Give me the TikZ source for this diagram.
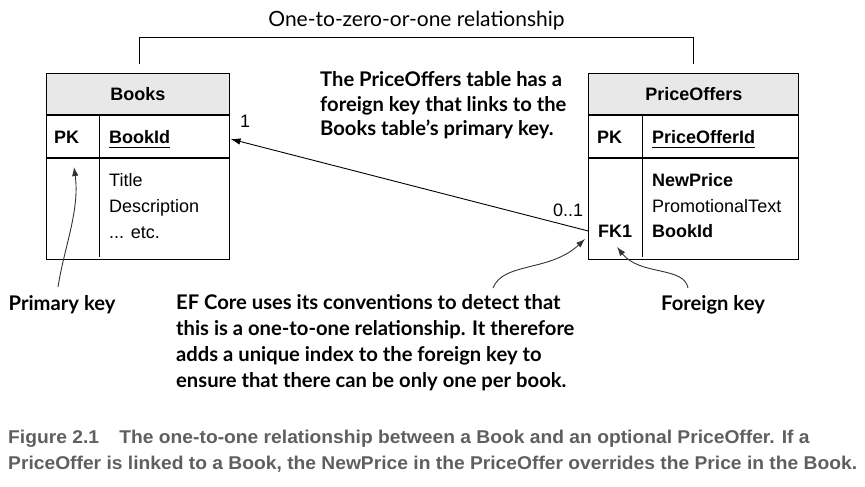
\documentclass[tikz,border=0pt]{standalone}
\usepackage{fontspec}
\setmainfont{Liberation Sans}
\newfontfamily\gill{Lato}
\newfontfamily\capfont[FakeStretch=1.04]{Liberation Sans}
\usetikzlibrary{arrows.meta,calc}
\definecolor{hdrgray}{HTML}{E8E8E8}
\definecolor{capgray}{HTML}{5F5F5F}
\definecolor{annot}{HTML}{333333}
\tikzset{
  tbox/.style={draw, line width=1pt, inner sep=0pt, anchor=north west},
  thead/.style={tbox, fill=hdrgray, font=\bfseries\fontsize{18}{20}\selectfont},
  tfield/.style={anchor=base west, inner sep=0pt, font=\fontsize{18}{20}\selectfont},
  tkey/.style={tfield, font=\bfseries\fontsize{18}{20}\selectfont},
  note/.style={anchor=base west, inner sep=0pt, align=left, font=\gill\bfseries\fontsize{20.2}{25.7}\selectfont},
  pointer/.style={draw=annot, line width=0.9pt, -{Latex[length=9pt,width=6.5pt]}},
  link/.style={draw, line width=0.9pt, -{Latex[length=10pt,width=6.5pt]}}
}
\begin{document}
\begin{tikzpicture}[x=1pt,y=-1pt]
\useasboundingbox (0,0) rectangle (865,487);

% Books table
\node[thead, minimum width=183.6pt, minimum height=41pt] (bhead) at (45.7,73.3) {Books};
\node[tbox, minimum width=183.6pt, minimum height=41.7pt] (bpk) at (bhead.south west) {};
\node[tbox, minimum width=183.6pt, minimum height=101.3pt] (bbody) at (bpk.south west) {};
\draw[line width=1pt] (99.3,114.3) -- (99.3,257.3);
\node[tkey] (bpklabel) at (54,143) {PK};
\node[tkey] (bid) at (109,143) {BookId};
\draw[line width=0.9pt] (bid.base west) ++(0,4) -- ($(bid.base east)+(0,4)$);
\node[tfield] (btitle) at (109,186) {Title};
\node[tfield] (bdesc) at (109,212) {Description};
\node[tfield] (betc) at (109,238) {... etc.};

% PriceOffers table
\node[thead, minimum width=210pt, minimum height=41pt] (phead) at (588.3,73.3) {PriceOffers};
\node[tbox, minimum width=210pt, minimum height=41.7pt] (ppk) at (phead.south west) {};
\node[tbox, minimum width=210pt, minimum height=101.3pt] (pbody) at (ppk.south west) {};
\draw[line width=1pt] (642.3,114.3) -- (642.3,257.3);
\node[tkey] (ppklabel) at (597,143) {PK};
\node[tkey] (pid) at (652,143) {PriceOfferId};
\draw[line width=0.9pt] (pid.base west) ++(0,4) -- ($(pid.base east)+(0,4)$);
\node[tkey] (pnew) at (652,186) {NewPrice};
\node[tfield] (ppromo) at (652,212) {PromotionalText};
\node[tkey] (pbook) at (652,237.5) {BookId};
\node[tkey] (pfk) at (598,237.5) {FK1};

% relationship bracket
\coordinate (bl) at (139.3,64.3);
\coordinate (br) at (693.3,64.3);
\draw[line width=0.9pt] (bl) -- (139.3,37.3) -- (693.3,37.3) -- (br);
\node[anchor=base, inner sep=0pt, font=\gill\fontsize{21}{22}\selectfont] (rel) at (416.5,27) {One-to-zero-or-one relationship};

% link
\coordinate (fkpt) at (588.3,231);
\coordinate (pkpt) at (230.5,139);
\draw[link] (fkpt) -- (pkpt);
\node[tfield] (one) at (240,127) {1};
\node[tfield] (zo) at (553,216.7) {0..1};

% notes (base anchor = last line's baseline)
\node[note, font=\gill\bfseries\fontsize{20.2}{24}\selectfont] (topnote) at (320,135) {The PriceOffers table has a\\foreign key that links to the\\Books table’s primary key.};
\node[note] (pknote) at (8.5,310) {Primary key};
\node[note] (efnote) at (176,387) {EF Core uses its conventions to detect that\\this is a one-to-one relationship. It therefore\\adds a unique index to the foreign key to\\ensure that there can be only one per book.};
\node[note] (fknote) at (661,310) {Foreign key};

\coordinate (pkfrom) at (58,287);
\coordinate (pkto) at (74,167);
\draw[pointer] (pkfrom) .. controls (64,248) and (80,210) .. (pkto);
\coordinate (effrom) at (493,288);
\coordinate (efto) at (585,239);
\draw[pointer] (effrom) .. controls (503,262) and (550,272) .. (efto);
\coordinate (fkfrom) at (688,288);
\coordinate (fkto) at (617,247);
\draw[pointer] (fkfrom) .. controls (684,266) and (640,276) .. (fkto);

% caption
\node[anchor=base west, inner sep=0pt, align=left, text=capgray, font=\capfont\bfseries\fontsize{18.5}{26}\selectfont] (cap) at (8,469)
 {Figure 2.1\hspace{1.1em}The one-to-one relationship between a Book and an optional PriceOffer. If a\\PriceOffer is linked to a Book, the NewPrice in the PriceOffer overrides the Price in the Book.};
\end{tikzpicture}
\end{document}
